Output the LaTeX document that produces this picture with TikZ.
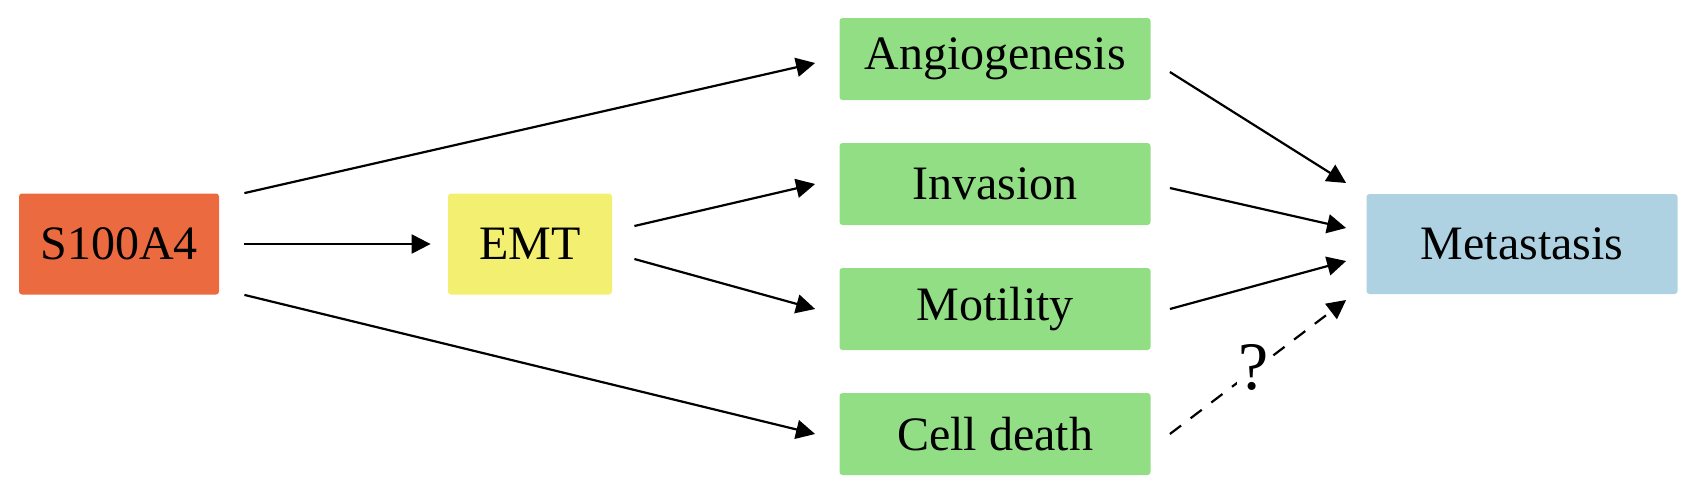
\documentclass[tikz,border=0pt]{standalone}
\usepackage{fontspec}
\setmainfont{Liberation Serif}
\usetikzlibrary{arrows.meta,positioning}
\definecolor{genecol}{RGB}{236,106,64}
\definecolor{emtcol}{RGB}{243,239,112}
\definecolor{effcol}{RGB}{146,222,132}
\definecolor{metacol}{RGB}{174,210,226}

\tikzset{
  box/.style={rounded corners=1.5pt, inner sep=0pt, minimum width=155.5pt,
              minimum height=41pt, font=\fontsize{24}{28}\selectfont},
  arr/.style={-{Triangle[length=9.5pt,width=9.5pt]}, line width=1.1pt},
}

\begin{document}
\begin{tikzpicture}[x=0.5pt,y=-0.5pt]
  \useasboundingbox (0,0) rectangle (1690,493);

  \node[box, fill=genecol, minimum width=100pt, minimum height=50.5pt] (s100) at (119,244) {S100A4};
  \node[box, fill=emtcol, minimum width=82pt, minimum height=50.5pt] (emt) at (530,244) {EMT};
  \node[box, fill=effcol] (angio) at (995,59) {Angiogenesis};
  \node[box, fill=effcol] (inv) at (995,184) {Invasion};
  \node[box, fill=effcol] (mot) at (995,309) {Motility};
  \node[box, fill=effcol] (death) at (995,434) {Cell death};
  \node[box, fill=metacol, minimum height=50pt] (meta) at (1522,244) {Metastasis};

  % S100A4 and EMT
  \draw[arr] ([xshift=12.5pt]s100.north east) -- ([shift={(-12pt,-2pt)}]angio.west);
  \draw[arr] ([xshift=12.5pt]s100.east) -- ([xshift=-8.5pt]emt.west);
  \draw[arr] ([xshift=12.5pt]s100.south east) -- ([xshift=-12pt]death.west);
  \draw[arr] ([shift={(11pt,9pt)}]emt.east) -- ([xshift=-12pt]inv.west);
  \draw[arr] ([shift={(11pt,-7.5pt)}]emt.east) -- ([xshift=-12pt]mot.west);

  % towards metastasis
  \draw[arr] ([shift={(9.5pt,-6.5pt)}]angio.east) -- ([shift={(-10pt,30.5pt)}]meta.west);
  \draw[arr] ([shift={(9.5pt,-2pt)}]inv.east) -- ([shift={(-10pt,8pt)}]meta.west);
  \draw[arr] ([xshift=9.5pt]mot.east) -- ([shift={(-10pt,-8.5pt)}]meta.west);
  \draw[arr, dash pattern=on 7pt off 6pt] ([xshift=9.5pt]death.east) -- ([shift={(-10pt,-28pt)}]meta.west);
  \node[fill=white, inner sep=1pt, font=\fontsize{34}{40}\selectfont] (q) at (1254,367) {?};
\end{tikzpicture}
\end{document}
